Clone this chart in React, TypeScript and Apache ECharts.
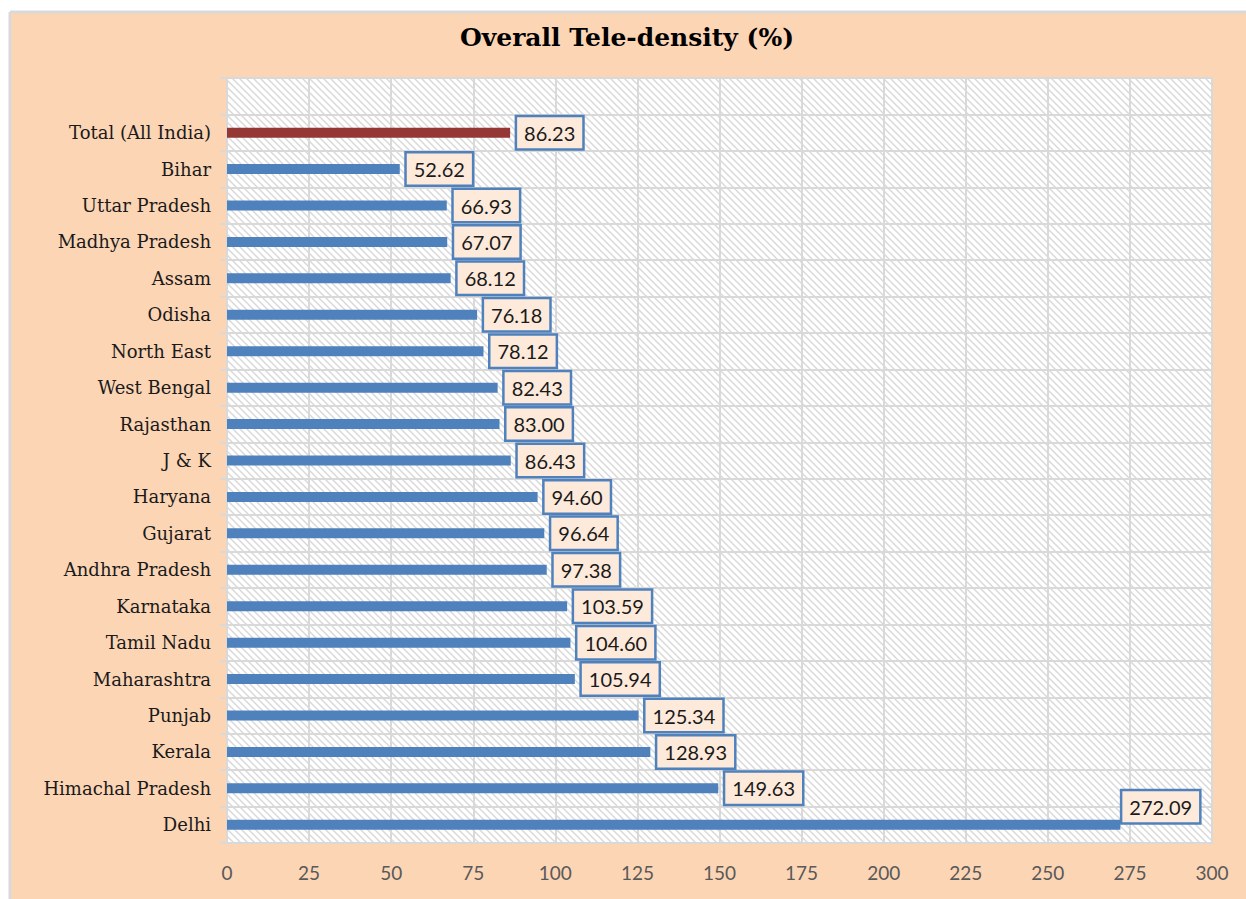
import React, { useEffect, useRef } from "react";
import * as echarts from "echarts";

const categories = [
  "Delhi",
  "Himachal Pradesh",
  "Kerala",
  "Punjab",
  "Maharashtra",
  "Tamil Nadu",
  "Karnataka",
  "Andhra Pradesh",
  "Gujarat",
  "Haryana",
  "J & K",
  "Rajasthan",
  "West Bengal",
  "North East",
  "Odisha",
  "Assam",
  "Madhya Pradesh",
  "Uttar Pradesh",
  "Bihar",
  "Total (All India)",
  "",
];

const values = [
  272.09, 149.63, 128.93, 125.34, 105.94, 104.6, 103.59, 97.38, 96.64, 94.6,
  86.43, 83.0, 82.43, 78.12, 76.18, 68.12, 67.07, 66.93, 52.62, 86.23,
];

const xTicks = [0, 25, 50, 75, 100, 125, 150, 175, 200, 225, 250, 275, 300];

function makeHatch(): string {
  const s = 7;
  const c = document.createElement("canvas");
  c.width = s;
  c.height = s;
  const ctx = c.getContext("2d");
  if (!ctx) return "";
  ctx.fillStyle = "#ffffff";
  ctx.fillRect(0, 0, s, s);
  ctx.strokeStyle = "#d9d9d9";
  ctx.lineWidth = 1.5;
  ctx.beginPath();
  ctx.moveTo(-1, -1);
  ctx.lineTo(s + 1, s + 1);
  ctx.moveTo(-s - 1, -1);
  ctx.lineTo(1, s + 1);
  ctx.moveTo(s - 1, -1);
  ctx.lineTo(2 * s + 1, s + 1);
  ctx.stroke();
  return c.toDataURL();
}

export default function App() {
  const ref = useRef<HTMLDivElement>(null);
  useEffect(() => {
    if (!ref.current) return;
    const chart = echarts.init(ref.current, undefined, { renderer: "svg" });
    const hatch = makeHatch();
    const data = values.map((v, i) => {
      const isTotal = categories[i] === "Total (All India)";
      const isDelhi = categories[i] === "Delhi";
      const item: any = {
        value: v,
        itemStyle: { color: isTotal ? "#953735" : "#4F81BD" },
      };
      if (isDelhi) {
        item.label = { offset: [-5, -18] };
      }
      return item;
    });
    chart.setOption({
      animation: false,
      backgroundColor: "#ffffff",
      graphic: [
        {
          type: "rect",
          shape: { x: 2, y: 4, width: 1300, height: 950 },
          style: { fill: "#FCD5B5" },
          z: -10,
          silent: true,
        },
        {
          type: "line",
          shape: { x1: 2, y1: 4, x2: 1300, y2: 4 },
          style: { stroke: "#D9D9D9", lineWidth: 3 },
          z: -9,
          silent: true,
        },
        {
          type: "line",
          shape: { x1: 2, y1: 4, x2: 2, y2: 950 },
          style: { stroke: "#D9D9D9", lineWidth: 3 },
          z: -9,
          silent: true,
        },
      ],
      title: {
        text: "Overall Tele-density (%)",
        left: "center",
        top: 12,
        textStyle: {
          fontFamily: "DejaVu Serif",
          fontWeight: "bold",
          fontSize: 25,
          color: "#000000",
        },
      },
      grid: {
        left: 219,
        top: 70,
        right: 34,
        bottom: 56,
        show: true,
        backgroundColor: hatch ? { image: hatch, repeat: "repeat" } : "#ffffff",
        borderColor: "#D9D9D9",
        borderWidth: 2,
      },
      xAxis: {
        type: "value",
        min: 0,
        max: 300,
        interval: 25,
        axisLine: { show: false },
        axisTick: { show: false },
        splitLine: { show: true, lineStyle: { color: "#D9D9D9", width: 2 } },
        axisLabel: {
          color: "#595959",
          fontSize: 19,
          fontFamily: "Lato",
          margin: 20,
          formatter: (v: number) => (xTicks.includes(v) ? String(v) : ""),
        },
      },
      yAxis: {
        type: "category",
        data: categories,
        axisLine: { show: true, lineStyle: { color: "#D9D9D9", width: 2 } },
        axisTick: { show: true, length: 7, lineStyle: { color: "#D9D9D9", width: 2 } },
        splitLine: { show: true, lineStyle: { color: "#D9D9D9", width: 2 } },
        axisLabel: {
          color: "#1a1a1a",
          fontSize: 18,
          fontFamily: "DejaVu Serif",
          margin: 16,
        },
      },
      series: [
        {
          type: "bar",
          data,
          barWidth: 10,
          label: {
            show: true,
            position: "right",
            distance: 7,
            formatter: (p: any) => Number(p.value).toFixed(2),
            color: "#1a1a1a",
            fontFamily: "Lato",
            fontSize: 20,
            lineHeight: 22,
            backgroundColor: "#FDEADA",
            borderColor: "#4F81BD",
            borderWidth: 2.5,
            padding: [5, 7, 4, 7],
          },
        },
      ],
    });
    return () => chart.dispose();
  }, []);
  return (
    <div
      ref={ref}
      style={{ position: "fixed", left: 8, top: 8, width: 1238, height: 891 }}
    />
  );
}
